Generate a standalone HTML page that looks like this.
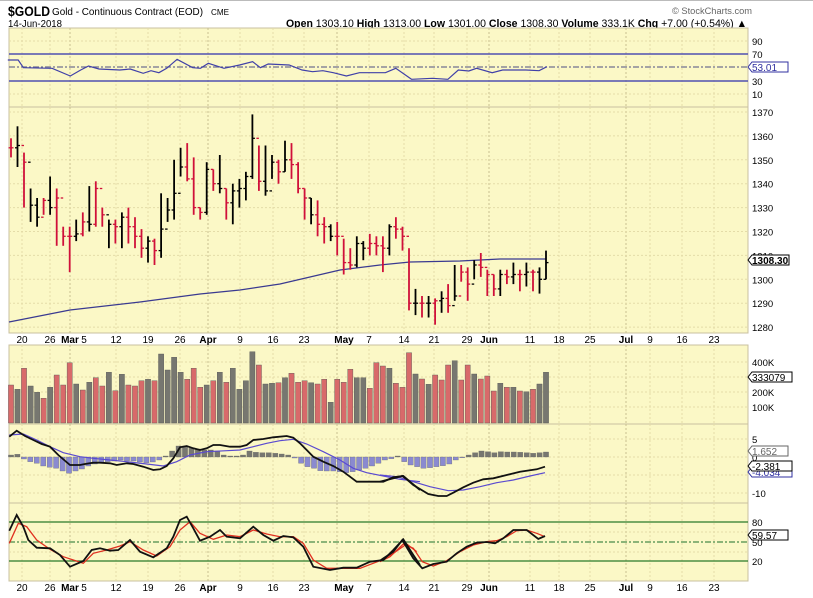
<!DOCTYPE html>
<html><head><meta charset="utf-8">
<style>
html,body{margin:0;padding:0;background:#fff;}
svg{display:block;font-family:"Liberation Sans",sans-serif;}
</style></head>
<body>
<svg id="c" width="813" height="598" xmlns="http://www.w3.org/2000/svg">
<line x1="0" y1="0.5" x2="813" y2="0.5" stroke="#bbb"/>
<text x="8" y="16" font-size="14" font-weight="bold" textLength="42" lengthAdjust="spacingAndGlyphs">$GOLD</text>
<text x="52" y="15" font-size="10" textLength="151" lengthAdjust="spacingAndGlyphs">Gold - Continuous Contract (EOD)</text>
<text x="211" y="15" font-size="8" textLength="18" lengthAdjust="spacingAndGlyphs">CME</text>
<text x="8" y="27" font-size="10" textLength="54" lengthAdjust="spacingAndGlyphs">14-Jun-2018</text>
<text x="672" y="14" font-size="9" fill="#666" textLength="80" lengthAdjust="spacingAndGlyphs">© StockCharts.com</text>
<g id="g"></g>
</svg>
<script>
var S='';
function T(x,y,t,o){o=o||'';S+='<text x="'+x+'" y="'+y+'" '+o+'>'+t+'</text>';}
S+='<text x="286" y="27" font-size="11" textLength="461" lengthAdjust="spacingAndGlyphs"><tspan font-weight="bold">Open</tspan> 1303.10 <tspan font-weight="bold">High</tspan> 1313.00 <tspan font-weight="bold">Low</tspan> 1301.00 <tspan font-weight="bold">Close</tspan> 1308.30 <tspan font-weight="bold">Volume</tspan> 333.1K <tspan font-weight="bold">Chg</tspan> +7.00 (+0.54%) ▲</text>';
var L=9,R=748,BG='#fbf8c6';
var panels=[[28,107],[107,333],[345,424],[424,503],[503,581]];
panels.forEach(function(p){S+='<rect x="'+L+'" y="'+p[0]+'" width="'+(R-L)+'" height="'+(p[1]-p[0])+'" fill="'+BG+'" stroke="#c8c0a0" stroke-width="1"/>';});
var vx=[22,50,70,116,148,180,208,240,273,304,337,369,404,434,467,489,530,559,590,626,650,682,714];
var months={70:1,208:1,337:1,489:1,626:1};
panels.forEach(function(p){vx.forEach(function(x){S+='<line x1="'+x+'" y1="'+p[0]+'" x2="'+x+'" y2="'+p[1]+'" stroke="'+(months[x]?'#c8c090':'#e4dca8')+'" stroke-dasharray="2,2"/>';});});
function hg(y){S+='<line x1="'+L+'" y1="'+y+'" x2="'+R+'" y2="'+y+'" stroke="#e4dca8" stroke-dasharray="2,2"/>';}
[41,94].forEach(hg);
for(var p=1280;p<=1370;p+=10){hg(112+(1370-p)*2.39);}
[362,377,392,407].forEach(hg);
[439,457,475,493].forEach(hg);
[532,552].forEach(hg);
var lab=[[22,'20'],[50,'26'],[70,'Mar',1],[84,'5'],[116,'12'],[148,'19'],[180,'26'],[208,'Apr',1],[240,'9'],[273,'16'],[304,'23'],[344,'May',1],[369,'7'],[404,'14'],[434,'21'],[467,'29'],[489,'Jun',1],[530,'11'],[559,'18'],[590,'25'],[626,'Jul',1],[650,'9'],[682,'16'],[714,'23']];
[343,591].forEach(function(y){lab.forEach(function(l){T(l[0],y,l[1],'font-size="10" text-anchor="middle"'+(l[2]?' font-weight="bold"':''));});});
function RL(y,t){T(752,y+4,t,'font-size="9.5"');}
RL(41,'90');RL(54,'70');RL(81,'30');RL(94,'10');
for(p=1280;p<=1370;p+=10)RL(112+(1370-p)*2.39,p);
RL(362,'400K');RL(377,'300K');RL(392,'200K');RL(407,'100K');
RL(439,'5');RL(457,'0');RL(493,'-10');
RL(522,'80');RL(542,'50');RL(561,'20');
function box(y,t,w,b,col){col=col||'#000';S+='<path d="M748,'+y+' l4,-5 h'+w+' v10 h-'+w+' z" fill="#fff" stroke="'+col+'"/>';T(752,y+4,t,'font-size="10"'+(b?' font-weight="bold"':'')+' fill="'+col+'"');}
S+='<line x1="'+L+'" y1="54" x2="'+R+'" y2="54" stroke="#5050b0" stroke-width="1.5"/><line x1="'+L+'" y1="81" x2="'+R+'" y2="81" stroke="#5050b0" stroke-width="1.5"/><line x1="'+L+'" y1="67" x2="'+R+'" y2="67" stroke="#707090" stroke-width="1.2" stroke-dasharray="6,2,2,2"/>';
var rsi=[[15,180],[35,180],[45,203],[100,205],[135,228],[155,210],[170,198],[190,207],[230,210],[250,207],[275,220],[290,212],[305,218],[320,205],[340,178],[370,203],[385,205],[400,190],[430,205],[460,195],[485,185],[500,203],[515,192],[555,195],[580,210],[600,215],[620,212],[640,218],[665,228],[690,218],[740,218],[760,205],[790,238],[830,235],[860,238],[880,210],[900,213],[915,205],[945,218],[965,210],[1010,210],[1035,212],[1050,200]];
S+='<polyline fill="none" stroke="#4040a8" stroke-width="1.2" points="'+rsi.map(function(q){return (q[0]/1.92).toFixed(1)+','+(q[1]/3).toFixed(1);}).join(' ')+'"/>';
box(67,'53.01',36,0,'#3030a0');
var B=[[1359,1351,1355,'r'],[1364,1347,1356,'b'],[1353,1330,1349,'r'],[1338,1324,1331,'b'],[1334,1322,1326,'b'],[1334,1327,1333,'r'],[1343,1327,1330,'b'],[1338,1314,1334,'r'],[1322,1314,1318,'r'],[1322,1303,1318,'r'],[1325,1316,1319,'b'],[1328,1318,1324,'r'],[1339,1320,1323,'b'],[1341,1322,1338,'r'],[1330,1322,1327,'r'],[1325,1313,1323,'b'],[1325,1315,1322,'r'],[1328,1313,1326,'b'],[1330,1315,1322,'r'],[1326,1313,1318,'r'],[1321,1309,1313,'r'],[1318,1307,1316,'b'],[1317,1306,1312,'r'],[1336,1309,1321,'b'],[1334,1324,1329,'b'],[1350,1325,1336,'b'],[1355,1343,1347,'b'],[1357,1341,1342,'r'],[1351,1327,1330,'r'],[1330,1325,1328,'r'],[1349,1327,1346,'b'],[1346,1337,1340,'r'],[1352,1336,1338,'b'],[1338,1325,1332,'r'],[1340,1323,1337,'b'],[1342,1330,1338,'b'],[1345,1333,1343,'b'],[1369,1342,1359,'b'],[1356,1337,1341,'r'],[1356,1335,1337,'b'],[1352,1342,1349,'b'],[1350,1340,1345,'r'],[1358,1345,1350,'b'],[1357,1342,1348,'r'],[1349,1336,1338,'r'],[1338,1325,1334,'r'],[1334,1323,1327,'b'],[1333,1318,1323,'r'],[1326,1315,1322,'r'],[1323,1316,1318,'b'],[1324,1310,1318,'r'],[1317,1302,1307,'r'],[1313,1304,1306,'r'],[1318,1305,1315,'b'],[1316,1308,1313,'b'],[1319,1310,1315,'r'],[1318,1310,1314,'r'],[1318,1303,1313,'r'],[1323,1310,1322,'b'],[1326,1317,1321,'r'],[1322,1312,1318,'r'],[1313,1287,1290,'r'],[1296,1285,1290,'b'],[1293,1284,1290,'r'],[1293,1284,1290,'b'],[1292,1281,1291,'r'],[1295,1286,1292,'b'],[1298,1286,1289,'r'],[1306,1291,1293,'b'],[1306,1299,1303,'r'],[1305,1291,1298,'r'],[1308,1300,1306,'b'],[1311,1301,1305,'r'],[1304,1293,1302,'r'],[1302,1293,1296,'r'],[1304,1293,1302,'b'],[1304,1298,1301,'r'],[1307,1298,1302,'b'],[1304,1295,1302,'r'],[1307,1297,1303,'b'],[1304,1295,1303,'r'],[1305,1294,1300,'b'],[1312,1300,1307,'b']];
function py(p){return 112+(1370-p)*2.39;}
var n=B.length,dx=(546-11)/(n-1);
S+='<polyline fill="none" stroke="#3a3a90" stroke-width="1.2" points="9,322 70,310 140,302 200,294 240,290 280,284 310,277 340,270 380,265 410,262 460,261 500,259 546,259"/>';
B.forEach(function(b,i){var x=11+i*dx,c=b[3]=='r'?'#d0103a':'#000';var o=i?B[i-1][2]:b[2];
S+='<line x1="'+x.toFixed(1)+'" y1="'+py(b[0]).toFixed(1)+'" x2="'+x.toFixed(1)+'" y2="'+py(b[1]).toFixed(1)+'" stroke="'+c+'" stroke-width="1.8"/>';
S+='<line x1="'+(x-2.5).toFixed(1)+'" y1="'+py(o).toFixed(1)+'" x2="'+x.toFixed(1)+'" y2="'+py(o).toFixed(1)+'" stroke="'+c+'" stroke-width="1.3"/>';
S+='<line x1="'+x.toFixed(1)+'" y1="'+py(b[2]).toFixed(1)+'" x2="'+(x+2.5).toFixed(1)+'" y2="'+py(b[2]).toFixed(1)+'" stroke="'+c+'" stroke-width="1.3"/>';});
box(260,'1308.30',37,1);
var V=[[135,'r'],[148,'g'],[85,'r'],[138,'g'],[157,'g'],[175,'r'],[142,'g'],[105,'r'],[135,'r'],[68,'r'],[132,'g'],[150,'r'],[127,'g'],[113,'r'],[138,'r'],[97,'g'],[152,'r'],[103,'g'],[135,'r'],[138,'r'],[122,'r'],[118,'g'],[122,'r'],[42,'g'],[90,'g'],[52,'g'],[97,'g'],[118,'r'],[85,'r'],[142,'r'],[135,'g'],[122,'r'],[97,'g'],[127,'r'],[85,'g'],[148,'g'],[122,'g'],[35,'g'],[75,'r'],[132,'g'],[130,'g'],[128,'r'],[113,'g'],[100,'r'],[127,'r'],[122,'r'],[128,'g'],[132,'r'],[118,'r'],[187,'g'],[118,'r'],[127,'r'],[88,'r'],[113,'g'],[113,'g'],[145,'r'],[68,'r'],[78,'r'],[85,'g'],[130,'r'],[142,'r'],[38,'r'],[102,'g'],[117,'r'],[133,'g'],[105,'r'],[120,'r'],[75,'r'],[62,'g'],[120,'r'],[75,'r'],[102,'g'],[117,'r'],[108,'r'],[153,'r'],[130,'g'],[142,'r'],[142,'g'],[153,'r'],[155,'g'],[148,'r'],[132,'g'],[97,'g']];
var vn=V.length,vdx=(546-11)/(vn-1);
V.forEach(function(v,i){var x=11+i*vdx,y=340+v[0]/3;S+='<rect x="'+(x-2.6).toFixed(1)+'" y="'+y.toFixed(1)+'" width="5.2" height="'+(423-y).toFixed(1)+'" fill="'+(v[1]=='r'?'#d86a6a':'#777770')+'" stroke="#555" stroke-width="0.4"/>';});
box(377,'333079',40,0);
var H=[345,343,357,365,370,378,382,385,393,400,393,387,378,372,368,365,363,360,362,363,366,368,366,360,348,333,318,318,325,327,330,330,333,345,348,348,345,333,337,338,338,340,342,345,354,370,380,385,392,393,393,395,398,395,390,385,378,370,360,356,348,365,375,380,385,383,380,377,372,360,352,345,338,333,335,338,335,336,336,337,338,340,338,336];
var hdx=(546-11)/(H.length-1);
H.forEach(function(h,i){var x=11+i*hdx,y=340+h/3,b=457;var y1=Math.min(y,b),y2=Math.max(y,b);S+='<rect x="'+(x-2.6).toFixed(1)+'" y="'+y1.toFixed(1)+'" width="5.2" height="'+Math.max(0.8,y2-y1).toFixed(1)+'" fill="'+(y<b?'#777770':'#8a8ad0')+'" stroke="#666" stroke-width="0.3"/>';});
function pl(arr,ox,col,w){S+='<polyline fill="none" stroke="'+col+'" stroke-width="'+w+'" points="'+arr.map(function(q){return (ox+q[0]/3).toFixed(1)+','+(340+q[1]/3).toFixed(1);}).join(' ')+'"/>';}
var sig=[[28,285],[70,282],[110,300],[150,320],[190,338],[240,350],[280,355],[330,360],[380,365],[440,372],[490,378],[530,365],[570,345],[620,335],[680,332],[720,330],[760,320],[800,310],[840,302],[880,298],[920,312],[970,335],[1020,360],[1060,385],[1100,398],[1150,408],[1200,418],[1260,425]];
var sig2=[[0,405],[50,410],[100,425],[150,440],[205,452],[250,450],[300,440],[350,428],[400,420],[450,408],[495,398]];
var mac=[[28,290],[50,272],[75,288],[100,300],[125,312],[150,320],[175,345],[210,375],[240,375],[255,372],[280,368],[300,368],[330,370],[350,375],[380,370],[400,372],[430,380],[460,390],[480,388],[500,378],[520,355],[540,322],[560,318],[580,325],[600,330],[620,325],[640,315],[660,315],[690,320],[720,320],[740,315],[760,300],[790,297],[820,292],[860,288],[880,293],[900,310],[920,330],[940,350],[970,365],[1000,378],[1030,395],[1050,410],[1070,425],[1100,425],[1150,425],[1180,412],[1210,408],[1230,425],[1260,450]];
var mac2=[[0,425],[20,420],[67,408],[80,418],[100,435],[145,462],[175,468],[200,468],[220,458],[250,442],[280,428],[310,418],[340,415],[380,405],[420,395],[470,388],[495,380]];
pl(sig,0,'#5a4ad0',1.2);pl(sig2,380,'#5a4ad0',1.2);pl(mac,0,'#111',1.8);pl(mac2,380,'#111',1.8);
box(472,'-4.034',40,0,'#3030a0');box(451,'1.652',36,0,'#666');box(466,'-2.381',40,0);
S+='<line x1="'+L+'" y1="522" x2="'+R+'" y2="522" stroke="#2a7a2a" stroke-width="1.2"/><line x1="'+L+'" y1="561" x2="'+R+'" y2="561" stroke="#2a7a2a" stroke-width="1.2"/><line x1="'+L+'" y1="542" x2="'+R+'" y2="542" stroke="#4a8a4a" stroke-width="1.2" stroke-dasharray="6,2,2,2"/>';
var kd=[[28,610],[55,550],[80,560],[110,600],[150,628],[190,650],[250,670],[280,640],[320,630],[360,618],[390,605],[430,630],[470,648],[510,620],[540,570],[570,545],[600,580],[640,598],[680,585],[720,590],[760,570],[800,582],[840,590],[880,590],[910,610],[940,660],[980,685],[1030,685],[1080,685],[1140,662],[1180,640],[1220,612],[1250,635]];
var kd2=[[0,665],[30,650],[70,612],[100,625],[127,665],[160,678],[200,662],[240,635],[280,615],[320,605],[350,602],[380,590],[410,572],[440,570],[470,580],[495,590]];
var kk=[[28,572],[50,525],[70,560],[85,600],[110,623],[150,625],[180,645],[210,680],[250,663],[275,630],[300,625],[330,632],[355,630],[390,600],[420,635],[460,652],[500,625],[520,590],[540,540],[560,530],[580,565],[600,602],[630,590],[660,570],[680,590],[720,595],[760,560],[790,585],[820,602],[850,588],[880,592],[910,620],[940,680],[990,690],[1030,683],[1070,683],[1110,665],[1150,660],[1180,630],[1210,598],[1240,645],[1260,675]];
var kk2=[[0,662],[40,635],[67,600],[100,655],[127,685],[160,672],[200,665],[230,640],[260,620],[290,608],[320,606],[345,610],[370,595],[400,570],[420,570],[440,570],[475,597],[495,588]];
pl(kd,0,'#e03020',1.3);pl(kd2,380,'#e03020',1.3);pl(kk,0,'#111',1.8);pl(kk2,380,'#111',1.8);
box(535,'59.57',36,0);
document.getElementById('g').innerHTML=S;
</script>
</body></html>
